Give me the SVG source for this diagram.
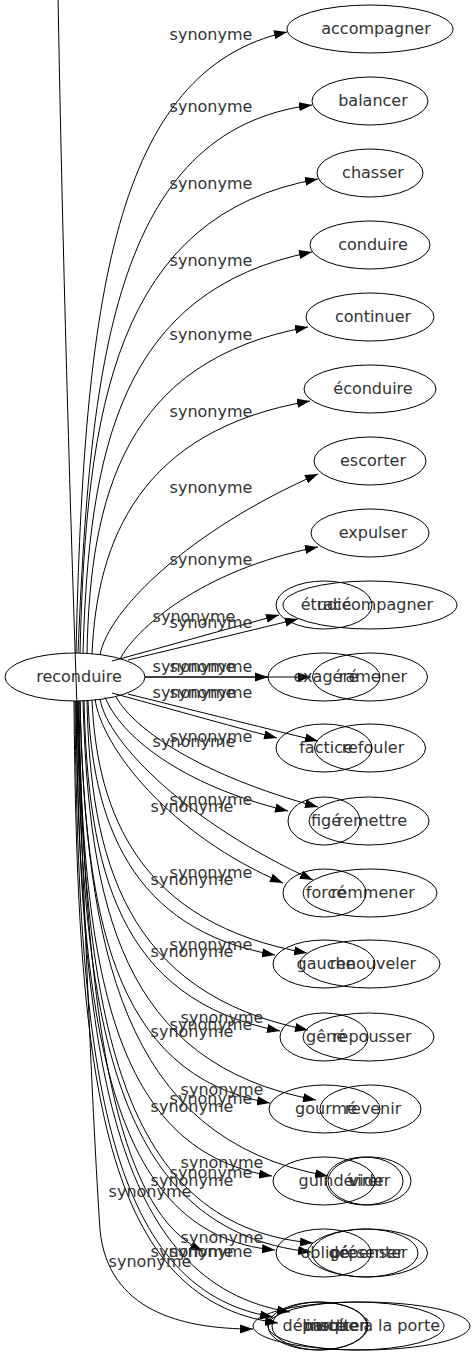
<svg xmlns="http://www.w3.org/2000/svg" width="476" height="1355" viewBox="0 0 476 1355">
<style>
ellipse{fill:none;stroke:#000;stroke-width:1}
text{font-family:"DejaVu Sans","Liberation Sans",sans-serif;font-size:16px;fill:#333;text-anchor:middle}
.e path{fill:none;stroke:#000;stroke-width:1;marker-end:url(#ah)}
</style>
<defs>
<marker id="ah" viewBox="0 0 10 7" refX="10" refY="3.5" markerWidth="13" markerHeight="9.3" markerUnits="userSpaceOnUse" orient="auto"><path d="M0,0 L10,3.5 L0,7 z" fill="#000"/></marker>
</defs>
<rect width="476" height="1355" fill="#fff"/>
<g class="e" id="edges">
<path d="M76,653 C84,300 114,70 287,32"/>
<path d="M78,653 C90,370 112,130 312,105"/>
<path d="M80,653 C86,410 115,215 318,179"/>
<path d="M83,653 C89,450 120,290 312,252"/>
<path d="M87,654 C90,495 125,360 308,327"/>
<path d="M92,654 C97,540 140,430 310,401"/>
<path d="M100,655 C108,610 190,530 318,474"/>
<path d="M120,659 C135,630 200,570 318,547"/>
<path d="M112,661 C160,648 230,628 279,615"/>
<path d="M128,660 C170,650 240,633 298,619"/>
<path d="M145,677 L268,677"/>
<path d="M145,677 L311,677"/>
<path d="M112,693 C160,706 230,726 277,738"/>
<path d="M128,694 C180,707 260,727 318,741"/>
<path d="M116,697 C135,730 200,775 318,807"/>
<path d="M105,697 C120,735 180,785 288,811"/>
<path d="M100,699 C108,744 190,824 313,880"/>
<path d="M95,699 C102,748 170,835 283,883"/>
<path d="M92,700 C97,814 140,924 307,953"/>
<path d="M88,700 C92,820 130,930 275,955"/>
<path d="M87,700 C90,859 125,994 308,1030"/>
<path d="M84,700 C88,870 118,1000 280,1031"/>
<path d="M83,701 C89,904 120,1064 316,1100"/>
<path d="M80,701 C85,910 110,1075 270,1103"/>
<path d="M80,701 C86,944 120,1140 328,1176"/>
<path d="M78,701 C84,950 105,1150 272,1176"/>
<path d="M78,701 C84,994 110,1226 313,1243"/>
<path d="M77,701 C82,1000 105,1230 311,1252"/>
<path d="M76,701 C80,1000 100,1235 275,1250"/>
<path d="M79,701 C84,1000 112,1210 203,1251"/>
<path d="M76,701 C80,1054 112,1284 290,1312"/>
<path d="M75,701 C78,1060 104,1290 273,1317"/>
<path d="M74,701 C77,1065 98,1300 278,1323"/>
<path d="M58,-5 C65,400 85,1000 100,1230 C108,1310 180,1329 253,1329"/>
</g>
<g id="edge-labels">
<text x="211" y="40">synonyme</text>
<text x="211" y="112">synonyme</text>
<text x="211" y="189">synonyme</text>
<text x="211" y="266">synonyme</text>
<text x="211" y="340">synonyme</text>
<text x="211" y="417">synonyme</text>
<text x="211" y="493">synonyme</text>
<text x="211" y="565">synonyme</text>
<text x="194" y="622">synonyme</text>
<text x="211" y="628">synonyme</text>
<text x="194" y="672">synonyme</text>
<text x="211" y="672">synonyme</text>
<text x="194" y="698">synonyme</text>
<text x="211" y="698">synonyme</text>
<text x="211" y="742">synonyme</text>
<text x="194" y="747">synonyme</text>
<text x="211" y="805">synonyme</text>
<text x="192" y="812">synonyme</text>
<text x="211" y="878">synonyme</text>
<text x="192" y="885">synonyme</text>
<text x="211" y="950">synonyme</text>
<text x="192" y="957">synonyme</text>
<text x="222" y="1023">synonyme</text>
<text x="211" y="1030">synonyme</text>
<text x="192" y="1037">synonyme</text>
<text x="222" y="1095">synonyme</text>
<text x="211" y="1104">synonyme</text>
<text x="192" y="1112">synonyme</text>
<text x="222" y="1168">synonyme</text>
<text x="211" y="1178">synonyme</text>
<text x="192" y="1186">synonyme</text>
<text x="150" y="1197">synonyme</text>
<text x="222" y="1243">synonyme</text>
<text x="211" y="1257">synonyme</text>
<text x="192" y="1257">synonyme</text>
<text x="150" y="1267">synonyme</text>
</g>
<g id="reconduire"><ellipse cx="75" cy="677" rx="70" ry="24"/><text x="79" y="682">reconduire</text></g>
<g id="accompagner"><ellipse cx="370" cy="29" rx="83" ry="24"/><text x="376" y="34">accompagner</text></g>
<g id="balancer"><ellipse cx="370" cy="101" rx="58" ry="24"/><text x="373" y="106">balancer</text></g>
<g id="chasser"><ellipse cx="370" cy="173" rx="53" ry="24"/><text x="373" y="178">chasser</text></g>
<g id="conduire"><ellipse cx="370" cy="245" rx="60" ry="24"/><text x="373" y="250">conduire</text></g>
<g id="continuer"><ellipse cx="370" cy="317" rx="64" ry="24"/><text x="373" y="322">continuer</text></g>
<g id="econduire"><ellipse cx="370" cy="389" rx="66" ry="24"/><text x="373" y="394">éconduire</text></g>
<g id="escorter"><ellipse cx="370" cy="461" rx="56" ry="24"/><text x="373" y="466">escorter</text></g>
<g id="expulser"><ellipse cx="370" cy="533" rx="59" ry="24"/><text x="373" y="538">expulser</text></g>
<g id="raccompagner"><ellipse cx="370" cy="605" rx="87" ry="24"/><text x="375" y="610">raccompagner</text></g>
<g id="etudie"><ellipse cx="324" cy="605" rx="48" ry="24"/><text x="326" y="610">étudié</text></g>
<g id="ramener"><ellipse cx="370" cy="677" rx="57.5" ry="24"/><text x="373" y="682">ramener</text></g>
<g id="exagere"><ellipse cx="324" cy="677" rx="56" ry="24"/><text x="326" y="682">exagéré</text></g>
<g id="refouler"><ellipse cx="370" cy="748" rx="55.5" ry="24"/><text x="373" y="753">refouler</text></g>
<g id="factice"><ellipse cx="324" cy="748" rx="48" ry="24"/><text x="326" y="753">factice</text></g>
<g id="remettre"><ellipse cx="369" cy="821" rx="60" ry="24"/><text x="372" y="826">remettre</text></g>
<g id="fige"><ellipse cx="324" cy="821" rx="36" ry="24"/><text x="326" y="826">figé</text></g>
<g id="remmener"><ellipse cx="370" cy="893" rx="67" ry="24"/><text x="373" y="898">remmener</text></g>
<g id="force"><ellipse cx="324.5" cy="893" rx="41.5" ry="24"/><text x="326" y="898">forcé</text></g>
<g id="renouveler"><ellipse cx="370" cy="964" rx="70" ry="24"/><text x="373" y="969">renouveler</text></g>
<g id="gauche"><ellipse cx="324" cy="964" rx="51" ry="24"/><text x="326" y="969">gauche</text></g>
<g id="repousser"><ellipse cx="368.5" cy="1037" rx="65.5" ry="24"/><text x="372" y="1042">repousser</text></g>
<g id="gene"><ellipse cx="324" cy="1037" rx="44" ry="24"/><text x="326" y="1042">gêné</text></g>
<g id="revenir"><ellipse cx="370.5" cy="1109" rx="50.5" ry="24"/><text x="373" y="1114">revenir</text></g>
<g id="gourme"><ellipse cx="324.5" cy="1109" rx="55.5" ry="24"/><text x="326" y="1114">gourmé</text></g>
<g id="vider"><ellipse cx="369.5" cy="1181" rx="41.5" ry="24"/><text x="370" y="1186">vider</text></g>
<g id="virer"><ellipse cx="364.5" cy="1181" rx="38.5" ry="24"/><text x="366" y="1186">virer</text></g>
<g id="guinde"><ellipse cx="324" cy="1181" rx="51" ry="24"/><text x="326" y="1186">guindé</text></g>
<g id="presenter"><ellipse cx="367.5" cy="1253" rx="60" ry="24"/><text x="369" y="1258">présenter</text></g>
<g id="depenser"><ellipse cx="365" cy="1253" rx="53" ry="24"/><text x="366" y="1258">dépenser</text></g>
<g id="oblige"><ellipse cx="323.5" cy="1253" rx="47.5" ry="24"/><text x="325" y="1258">obligé</text></g>
<g id="mettre"><ellipse cx="361.5" cy="1326" rx="108.5" ry="24"/><text x="372" y="1331">mettre à la porte</text></g>
<g id="insulter"><ellipse cx="356" cy="1326" rx="88" ry="24"/><text x="336" y="1331">insulter</text></g>
<g id="debarquer"><ellipse cx="318" cy="1326" rx="50" ry="24"/><text x="324" y="1331">débarquer</text></g>
<g id="pince"><ellipse cx="319.5" cy="1326" rx="47.5" ry="24"/><text x="324" y="1331">pincé</text></g>
</svg>
